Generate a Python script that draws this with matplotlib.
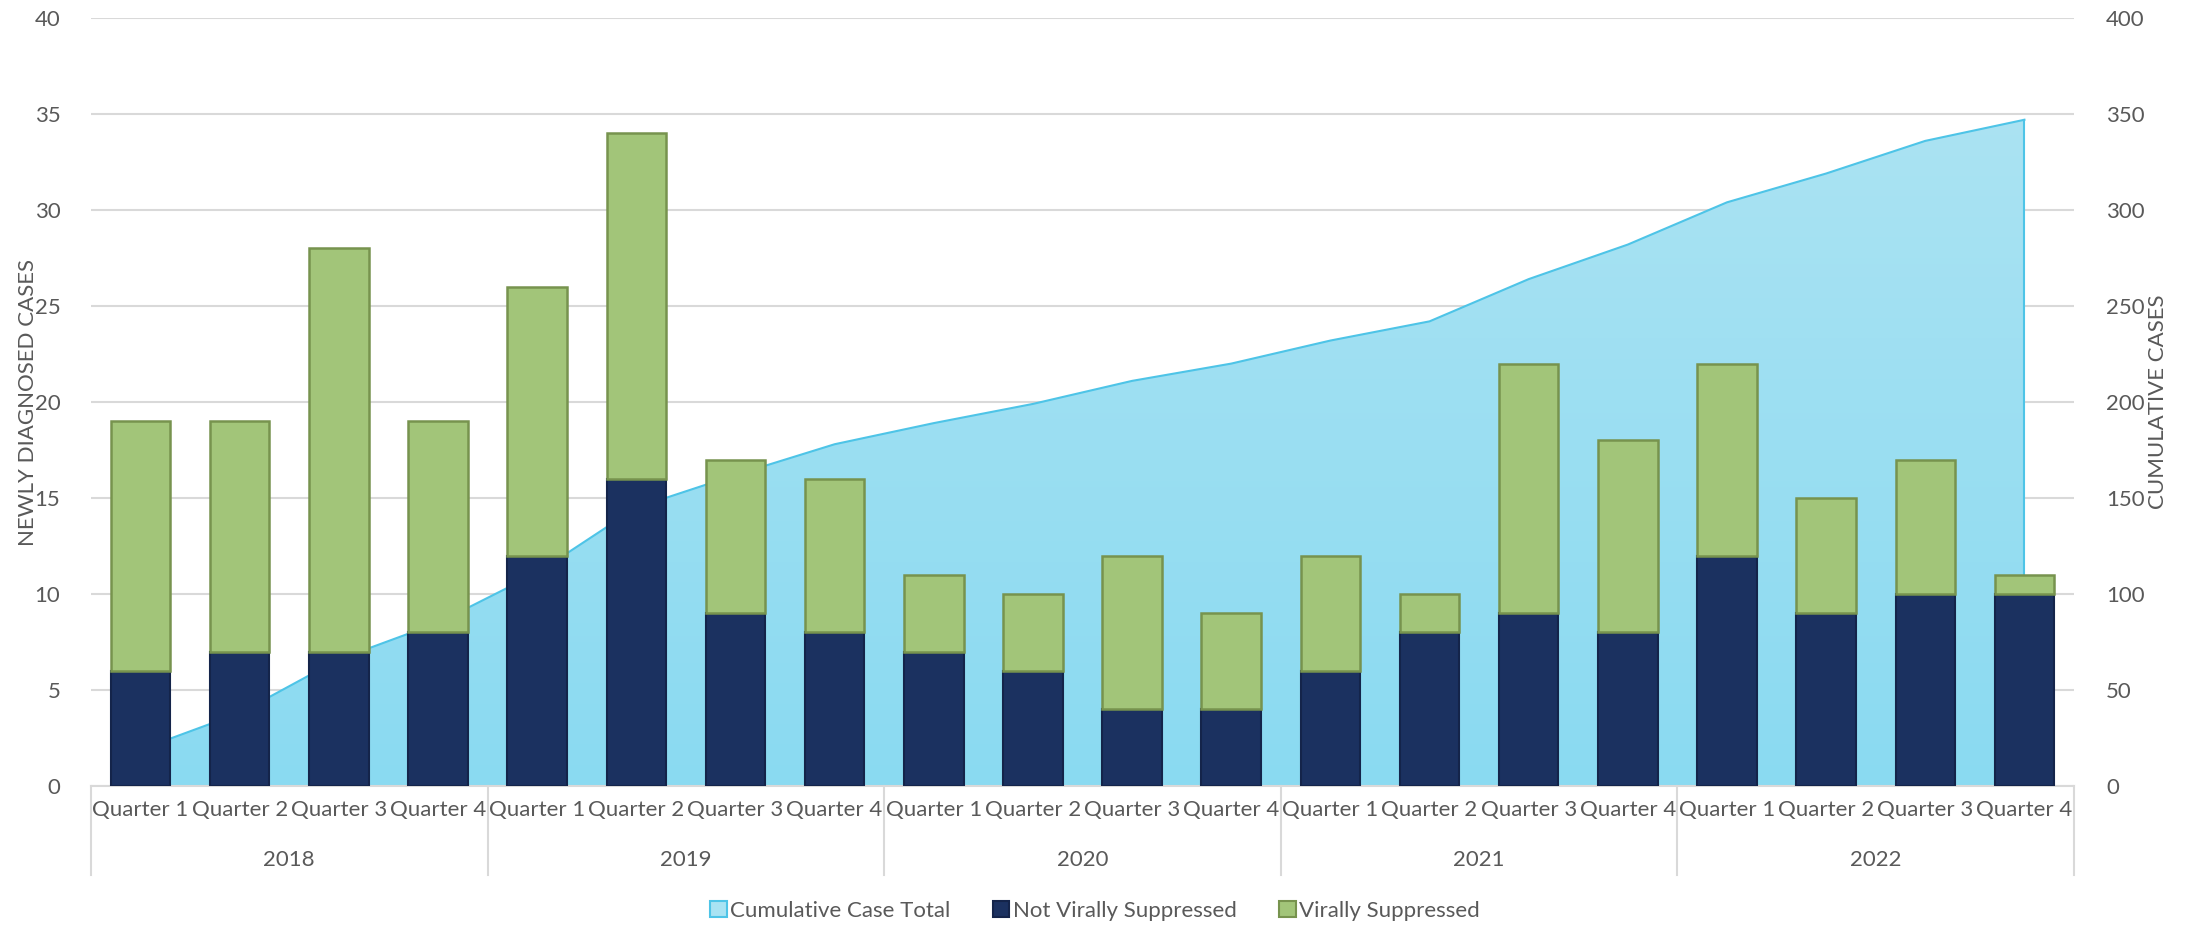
import numpy as np
import matplotlib
matplotlib.use("Agg")
import matplotlib.pyplot as plt
from matplotlib.colors import LinearSegmentedColormap
from matplotlib.patches import Patch

plt.rcParams['font.family'] = ['Lato', 'DejaVu Sans']

years = ["2018", "2019", "2020", "2021", "2022"]
quarters = ["Quarter 1", "Quarter 2", "Quarter 3", "Quarter 4"]

# newly diagnosed per quarter
not_suppressed = [6, 7, 7, 8, 12, 16, 9, 8, 7, 6, 4, 4, 6, 8, 9, 8, 12, 9, 10, 10]
suppressed = [13, 12, 21, 11, 14, 18, 8, 8, 4, 4, 8, 5, 6, 2, 13, 10, 10, 6, 7, 1]
cumulative = [19, 38, 66, 85, 111, 145, 162, 178, 189, 199,
              211, 220, 232, 242, 264, 282, 304, 319, 336, 347]

txt = "#595959"
grid_c = "#D9D9D9"
navy = "#1B3160"
green = "#A2C579"
blue = "#8EDCF2"

W, H = 2190, 926
fig = plt.figure(figsize=(W / 100, H / 100), dpi=100)
left, right, top, bottom = 91, 2074, 18, 786
ax = fig.add_axes([left / W, 1 - bottom / H, (right - left) / W, (bottom - top) / H])
ax2 = ax.twinx()
ax.set_zorder(ax2.get_zorder() + 1)
ax.patch.set_visible(False)

x = np.arange(len(cumulative))

# cumulative area on the right axis, behind the bars
poly = ax2.fill_between(x, cumulative, color=blue, lw=0, zorder=2)
grad = LinearSegmentedColormap.from_list("g", ["#8ADAF1", "#ABE3F3"])
img = ax2.imshow(np.linspace(0, 1, 256).reshape(-1, 1), extent=[x[0], x[-1], 0, 350],
                 origin="lower", aspect="auto", cmap=grad, zorder=2.5)
img.set_clip_path(poly.get_paths()[0], transform=ax2.transData)
ax2.plot(x, cumulative, color="#4EC4E7", lw=1.5, zorder=3)
ax2.plot([x[-1], x[-1]], [0, cumulative[-1]], color="#4EC4E7", lw=1.5, zorder=3)
ax2.set_ylim(0, 400)
ax2.set_yticks(np.arange(0, 401, 50))
ax2.grid(axis="y", color=grid_c, lw=1.5, zorder=0)
ax2.set_axisbelow(True)

# stacked bars on the left axis
ax.bar(x, not_suppressed, width=0.6, color=navy, edgecolor="#14244A", lw=1.5,
       label="Not Virally Suppressed", zorder=3)
ax.bar(x, suppressed, width=0.6, bottom=not_suppressed, color=green,
       edgecolor="#77934E", lw=1.8, label="Virally Suppressed", zorder=3)
ax.set_ylim(0, 40)
ax.set_yticks(np.arange(0, 41, 5))
ax.set_xlim(-0.5, len(x) - 0.5)
ax2.set_xlim(-0.5, len(x) - 0.5)

ax.set_xticks(x, quarters * len(years))
ax.tick_params(axis="x", length=0, pad=10, labelsize=16, labelcolor=txt)
ax.tick_params(axis="y", length=0, pad=22, labelsize=16, labelcolor=txt)
ax2.tick_params(axis="y", length=0, pad=23, labelsize=16, labelcolor=txt)

for a in (ax, ax2):
    for s in a.spines.values():
        s.set_visible(False)
ax.spines["bottom"].set_visible(True)
ax.spines["bottom"].set_color(grid_c)
ax.spines["bottom"].set_linewidth(1.5)

# year level of the category axis
trans = ax.get_xaxis_transform()
sep_y = -(875 - bottom) / (bottom - top)
year_y = -(860 - bottom) / (bottom - top)
for i, yr in enumerate(years):
    ax.text(i * 4 + 1.5, year_y, yr, transform=trans, ha="center", va="center",
            fontsize=16, color=txt)
for b in np.arange(-0.5, len(x), 4):
    ax.plot([b, b], [0, sep_y], transform=trans, color=grid_c, lw=1.5, clip_on=False)

ax.set_ylabel("NEWLY DIAGNOSED CASES", fontsize=16, color=txt)
ax.yaxis.set_label_coords((38 - left) / (right - left), 0.5)
ax2.set_ylabel("CUMULATIVE CASES", fontsize=16, color=txt, rotation=90)
ax2.yaxis.set_label_coords((2148 - left) / (right - left), 0.5)

handles = [Patch(facecolor="#A9E3F3", edgecolor="#4EC4E7", lw=1.5),
           Patch(facecolor=navy, edgecolor="#14244A", lw=1.5),
           Patch(facecolor=green, edgecolor="#77934E", lw=1.5)]
labels = ["Cumulative Case Total", "Not Virally Suppressed", "Virally Suppressed"]
fig.legend(handles, labels, loc="center", bbox_to_anchor=(0.5, 1 - 911 / H), ncol=3,
           frameon=False, fontsize=16, labelcolor=txt, handlelength=0.75,
           handleheight=0.75, handletextpad=0.15, columnspacing=1.9)

fig.savefig("out.png", dpi=100)
